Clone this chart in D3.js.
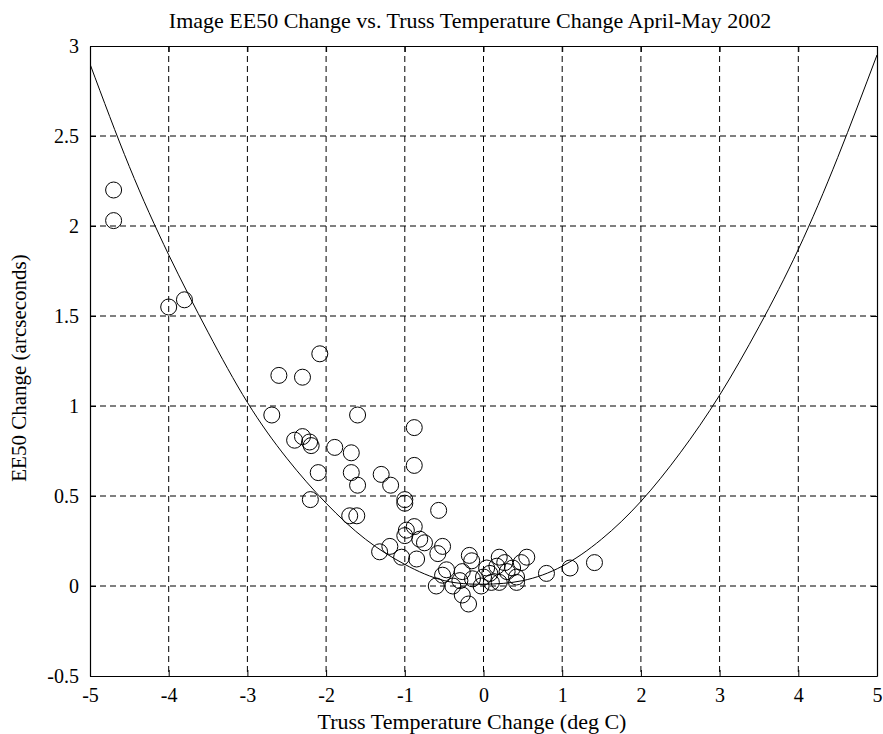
<!DOCTYPE html>
<html>
<head>
<meta charset="utf-8">
<script src="https://cdn.jsdelivr.net/npm/d3@7"></script>
<style>
  body { margin: 0; background: #fff; }
  text { font-family: "Liberation Serif", "Times New Roman", serif; fill: #000; }
</style>
</head>
<body>
<div id="chart"></div>
<script>
// Data
const tempChange = [-4.7, -4.7, -4.0, -3.8, -2.69, -2.6, -2.3, -2.08, -2.4, -2.3, -2.21, -2.19, -2.1, -2.2,
  -1.89, -1.68, -1.6, -0.88, -0.88, -1.68, -1.6, -1.3, -1.18, -1.0, -1.0, -0.57, -1.7, -1.61,
  -0.98, -0.88, -1.0, -0.81, -0.75, -0.52, -1.32, -1.19, -1.04, -0.85, -0.58, -0.18, -0.15,
  0.2, 0.55, 0.48, -0.47, -0.52, -0.27, -0.3, -0.14, 0.04, 0.08, 0.0, 0.17, 0.3, 0.42,
  -0.6, -0.39, -0.03, -0.27, -0.19, 0.42, 0.2, 0.1, 0.8, 1.1, 1.41, 0.27, 0.37];
const ee50Change = [2.2, 2.03, 1.55, 1.59, 0.95, 1.17, 1.16, 1.29, 0.81, 0.83, 0.8, 0.78, 0.63, 0.48,
  0.77, 0.74, 0.95, 0.88, 0.67, 0.63, 0.56, 0.62, 0.56, 0.48, 0.46, 0.42, 0.39, 0.39,
  0.31, 0.33, 0.28, 0.26, 0.24, 0.22, 0.19, 0.22, 0.16, 0.15, 0.18, 0.17, 0.14,
  0.16, 0.16, 0.13, 0.09, 0.06, 0.08, 0.03, 0.04, 0.1, 0.07, 0.05, 0.11, 0.08, 0.05,
  0.0, 0.0, 0.0, -0.05, -0.1, 0.02, 0.02, 0.02, 0.07, 0.1, 0.13, 0.13, 0.1];

// fitted curve
const curveX = [-5, -4.5, -4, -3.5, -3, -2.5, -2, -1.5, -1, -0.5, 0, 0.5, 1, 1.5, 2, 2.5, 3, 3.5, 4, 4.5, 5];
const curveY = [2.9, 2.33, 1.84, 1.41, 1.02, 0.71, 0.46, 0.26, 0.12, 0.03, 0.01, 0.03, 0.11, 0.26, 0.47, 0.74, 1.06, 1.44, 1.87, 2.38, 2.95];

const xTicks = [-5, -4, -3, -2, -1, 0, 1, 2, 3, 4, 5];
const yTicks = [-0.5, 0, 0.5, 1, 1.5, 2, 2.5, 3];

const width = 883, height = 734;
const margin = { top: 46, right: 6, bottom: 58, left: 90 };
const w = width - margin.left - margin.right,
      h = height - margin.top - margin.bottom;

const svg = d3.select("#chart").append("svg")
    .attr("width", width)
    .attr("height", height);

const g = svg.append("g")
    .attr("transform", "translate(" + margin.left + "," + margin.top + ")");

const x = d3.scaleLinear().domain([-5, 5]).range([0, w]);
const y = d3.scaleLinear().domain([-0.5, 3]).range([h, 0]);

g.append("defs").append("clipPath").attr("id", "clip")
  .append("rect").attr("width", w).attr("height", h);

// Grid lines
g.selectAll(".vgrid")
  .data(xTicks.slice(1, -1))
  .enter().append("line")
    .attr("x1", d => x(d)).attr("x2", d => x(d))
    .attr("y1", 0).attr("y2", h)
    .attr("stroke", "#000").attr("stroke-dasharray", "6,4");

g.selectAll(".hgrid")
  .data(yTicks.slice(1, -1))
  .enter().append("line")
    .attr("x1", 0).attr("x2", w)
    .attr("y1", d => y(d)).attr("y2", d => y(d))
    .attr("stroke", "#000").attr("stroke-dasharray", "6,4");

// Axes, ticks pointing inward
const fmt = d => String(d);
const xAxis = g.append("g").attr("transform", "translate(0," + h + ")")
  .call(d3.axisBottom(x).tickValues(xTicks).tickSizeInner(-6).tickSizeOuter(0).tickPadding(12).tickFormat(fmt));
const xTop = g.append("g")
  .call(d3.axisTop(x).tickValues(xTicks).tickSizeInner(-6).tickSizeOuter(0).tickFormat(""));
const yAxis = g.append("g")
  .call(d3.axisLeft(y).tickValues(yTicks).tickSizeInner(-6).tickSizeOuter(0).tickPadding(11).tickFormat(fmt));
const yRight = g.append("g").attr("transform", "translate(" + w + ",0)")
  .call(d3.axisRight(y).tickValues(yTicks).tickSizeInner(-6).tickSizeOuter(0).tickFormat(""));

[xAxis, xTop, yAxis, yRight].forEach(a => {
  a.select(".domain").attr("stroke", "#000").attr("stroke-width", 1.2);
  a.selectAll(".tick line").attr("stroke", "#000");
  a.selectAll("text").attr("font-size", 20).attr("font-family", "Liberation Serif");
});

// Fitted curve
const pts = curveX.map((d, i) => [d, curveY[i]]);
g.append("path")
  .datum(pts)
  .attr("clip-path", "url(#clip)")
  .attr("fill", "none")
  .attr("stroke", "#000")
  .attr("stroke-width", 1)
  .attr("d", d3.line().x(d => x(d[0])).y(d => y(d[1])).curve(d3.curveNatural));

// Data points
g.selectAll(".pt")
  .data(tempChange.map((d, i) => [d, ee50Change[i]]))
  .enter().append("circle")
    .attr("cx", d => x(d[0]))
    .attr("cy", d => y(d[1]))
    .attr("r", 8)
    .attr("fill", "none")
    .attr("stroke", "#000")
    .attr("stroke-width", 1);

// Titles
svg.append("text")
  .attr("x", 470).attr("y", 28)
  .attr("text-anchor", "middle").attr("font-size", 22)
  .text("Image EE50 Change vs. Truss Temperature Change April-May 2002");

svg.append("text")
  .attr("x", 472).attr("y", 729)
  .attr("text-anchor", "middle").attr("font-size", 22)
  .text("Truss Temperature Change (deg C)");

svg.append("text")
  .attr("transform", "translate(26,368) rotate(-90)")
  .attr("text-anchor", "middle").attr("font-size", 21)
  .text("EE50 Change (arcseconds)");
</script>
</body>
</html>
